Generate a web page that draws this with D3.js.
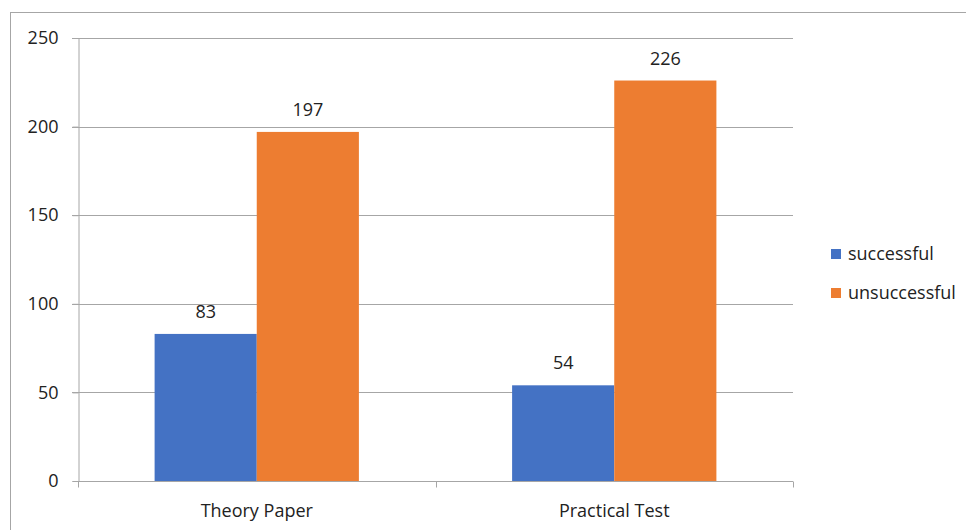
<!DOCTYPE html>
<html>
<head>
<meta charset="utf-8">
<script src="https://cdn.jsdelivr.net/npm/d3@7"></script>
<style>
  html, body { margin: 0; padding: 0; background: #fff; }
  svg text { font-family: "Open Sans", "Noto Sans", sans-serif; fill: #222; }
</style>
</head>
<body>
<svg id="chart" width="966" height="530"></svg>
<script>
// Exam results per test type
const categories = ["Theory Paper", "Practical Test"];
const seriesNames = ["successful", "unsuccessful"];
const successful = [83, 54];
const unsuccessful = [197, 226];
const yTicks = [0, 50, 100, 150, 200, 250];
const colors = ["#4472C4", "#ED7D31"];

const seriesValues = [successful, unsuccessful];

const svg = d3.select("#chart");
const gridColor = "#a6a6a6";
const fontSize = 18;

// outer frame
svg.append("rect")
  .attr("x", 10.5).attr("y", 12.5)
  .attr("width", 1000).attr("height", 1000)
  .attr("fill", "none").attr("stroke", gridColor).attr("stroke-width", 1);

const plot = { left: 78, right: 793, top: 38, bottom: 481 };

const x = d3.scaleBand().domain(categories).range([plot.left, plot.right]).paddingInner(0).paddingOuter(0);
const xInner = d3.scaleBand().domain(seriesNames).range([0, x.bandwidth()]).paddingOuter(0.75).paddingInner(0);
const y = d3.scaleLinear().domain([0, 250]).range([plot.bottom, plot.top]);

// horizontal gridlines
svg.append("g").selectAll("line").data(yTicks.filter(d => d > 0)).join("line")
  .attr("x1", plot.left - 6).attr("x2", plot.right)
  .attr("y1", d => Math.round(y(d)) + 0.5).attr("y2", d => Math.round(y(d)) + 0.5)
  .attr("stroke", gridColor).attr("stroke-width", 1);

// y axis
const yAxis = d3.axisLeft(y).tickValues(yTicks).tickSize(6).tickPadding(14).tickFormat(d3.format("d"));
const gy = svg.append("g").attr("transform", `translate(${plot.left + 0.5},0)`).call(yAxis);
gy.select(".domain").attr("stroke", gridColor);
gy.selectAll(".tick line").attr("stroke", gridColor);
gy.selectAll(".tick text").attr("font-size", fontSize).attr("fill", "#222");

// bars
const groups = svg.append("g").selectAll("g").data(categories).join("g")
  .attr("transform", d => `translate(${x(d)},0)`);

const cells = (c, i) => seriesNames.map((s, j) => ({ s, v: seriesValues[j][i], j }));

groups.selectAll("rect").data(cells).join("rect")
  .attr("x", d => xInner(d.s))
  .attr("width", xInner.bandwidth())
  .attr("y", d => y(d.v))
  .attr("height", d => y(0) - y(d.v))
  .attr("fill", d => colors[d.j]);

groups.selectAll("text").data(cells).join("text")
  .attr("x", d => xInner(d.s) + xInner.bandwidth() / 2)
  .attr("y", d => y(d.v) - 16)
  .attr("text-anchor", "middle")
  .attr("font-size", fontSize)
  .text(d => d.v);

// x axis
const xAxisG = svg.append("g").attr("transform", `translate(0,${plot.bottom + 0.5})`);
xAxisG.append("line").attr("x1", plot.left).attr("x2", plot.right)
  .attr("stroke", gridColor);
const xTickPos = [plot.left, ...categories.map(c => x(c) + x.bandwidth())];
xAxisG.selectAll(".xt").data(xTickPos).join("line").attr("class", "xt")
  .attr("x1", d => Math.round(d) + 0.5).attr("x2", d => Math.round(d) + 0.5)
  .attr("y1", 0).attr("y2", 6).attr("stroke", gridColor);
xAxisG.selectAll("text").data(categories).join("text")
  .attr("x", d => x(d) + x.bandwidth() / 2)
  .attr("y", 35)
  .attr("text-anchor", "middle")
  .attr("font-size", fontSize)
  .text(d => d);

// legend
const legend = svg.append("g").attr("transform", "translate(831,249)");
const li = legend.selectAll("g").data(seriesNames).join("g")
  .attr("transform", (d, i) => `translate(0,${i * 39})`);
li.append("rect").attr("width", 10).attr("height", 10).attr("fill", (d, i) => colors[i]);
li.append("text").attr("x", 17).attr("y", 5).attr("dy", "0.35em")
  .attr("font-size", fontSize).text(d => d);
</script>
</body>
</html>
